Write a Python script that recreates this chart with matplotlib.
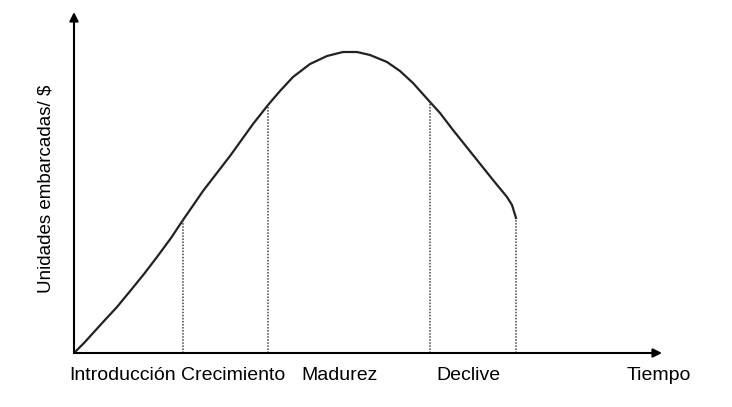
import matplotlib
matplotlib.use("Agg")
import matplotlib.pyplot as plt

plt.rcParams["font.family"] = ["Liberation Sans", "DejaVu Sans"]

# curva del ciclo de vida (unidades arbitrarias)
tiempo = [0, 10, 20, 30, 43, 57, 70, 83, 97, 109, 118, 129, 156, 179, 194,
          206, 219, 236, 253, 269, 283, 296, 313, 326, 339, 356, 366, 379,
          399, 419, 433, 438, 442]
ventas = [0, 10, 21, 32, 46, 63, 79, 96, 115, 133, 146, 162, 197, 229, 248,
          262, 276, 289, 297, 301, 301, 298, 291, 282, 270, 251, 240, 223,
          198, 173, 156, 148, 135]

# limites entre etapas (indices en la curva)
limites = [9, 14, 25, 32]

etapas = ["Introducción", "Crecimiento", "Madurez", "Declive"]
etapas_x = [49, 159, 266, 394]

fig = plt.figure(figsize=(7.32, 4.07), dpi=100)
ax = fig.add_axes([74 / 732, 54 / 407, 588 / 732, 341 / 407])
ax.set_xlim(0, 588)
ax.set_ylim(0, 341)
ax.axis("off")

ax.plot(tiempo, ventas, color="#222222", lw=1.6, solid_joinstyle="round")

for i in limites:
    ax.plot([tiempo[i], tiempo[i]], [0, ventas[i]], color="#444444",
            lw=1.1, linestyle=(0, (1, 1)))

arrow = dict(arrowstyle="-|>", color="black", lw=1.5, mutation_scale=13,
             shrinkA=0, shrinkB=0)
ax.annotate("", xy=(1, 0), xytext=(0, 0), xycoords="axes fraction",
            arrowprops=arrow, annotation_clip=False)
ax.annotate("", xy=(0, 1), xytext=(0, 0), xycoords="axes fraction",
            arrowprops=arrow, annotation_clip=False)

for name, x in zip(etapas, etapas_x):
    ax.text(x, -27, name, ha="center", va="baseline", fontsize=14,
            clip_on=False)
ax.text(585, -27, "Tiempo", ha="center", va="baseline", fontsize=14,
        clip_on=False)
ax.text(-28, 164, "Unidades embarcadas/ $", rotation=90, ha="center",
        va="center", fontsize=13.5, clip_on=False)

fig.savefig("out.png", dpi=100, facecolor="white")
